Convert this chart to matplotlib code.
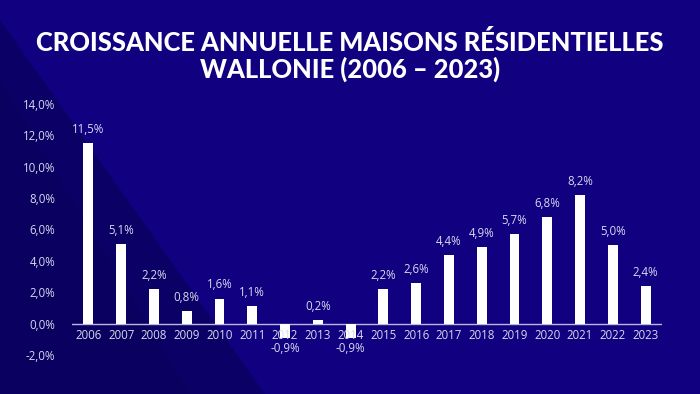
import matplotlib.pyplot as plt
from matplotlib.patches import Polygon

years = ['2006', '2007', '2008', '2009', '2010', '2011', '2012', '2013', '2014',
         '2015', '2016', '2017', '2018', '2019', '2020', '2021', '2022', '2023']
growth = [11.5, 5.1, 2.2, 0.8, 1.6, 1.1, -0.9, 0.2, -0.9,
          2.2, 2.6, 4.4, 4.9, 5.7, 6.8, 8.2, 5.0, 2.4]
yticks = [-2, 0, 2, 4, 6, 8, 10, 12, 14]

bg = '#11007f'
txt = '#d8d8f0'
font = 'Open Sans'

fig = plt.figure(figsize=(7, 3.94), dpi=100)
fig.patch.set_facecolor(bg)

# darker diagonal band on the left
fig.patches.append(Polygon([(0, 1 - 20/394), (265/700, 0), (0, 0)], closed=True,
                           transform=fig.transFigure, facecolor='#0b0066',
                           edgecolor='none', zorder=-2))
fig.patches.append(Polygon([(0, 1 - 80/394), (190/700, 0), (0, 0)], closed=True,
                           transform=fig.transFigure, facecolor='#08005a',
                           edgecolor='none', zorder=-1, alpha=0.5))

fig.text(0.5, 1 - 56/394, 'CROISSANCE ANNUELLE MAISONS RÉSIDENTIELLES\nWALLONIE (2006 – 2023)',
         ha='center', va='center', color='white', fontsize=18.4, fontweight='black',
         family='Lato', linespacing=1.08)

ax = fig.add_axes([72/700, 1 - 355/394, 590/700, 251/394], zorder=2)
ax.set_facecolor('none')
x = list(range(len(years)))
ax.bar(x, growth, width=0.3, color='white', zorder=3)
ax.axhline(0, color='#b8b8e0', linewidth=1, zorder=2)

for i, v in enumerate(growth):
    ax.text(i, -0.35, years[i], ha='center', va='top', color=txt, fontsize=8.3, family=font, zorder=4)
    lab = f'{v:.1f}%'.replace('.', ',')
    if v >= 0:
        ax.text(i, v + 0.45, lab, ha='center', va='bottom', color=txt, fontsize=8.3, family=font)
    else:
        ax.text(i, -1.2, lab, ha='center', va='top', color=txt, fontsize=8.3, family=font)

ax.set_xlim(-0.5, 17.5)
ax.set_ylim(-2, 14)
ax.set_xticks([])
ax.set_yticks(yticks)
ax.set_yticklabels([f'{t:.1f}%'.replace('.', ',') for t in yticks])
for lbl in ax.get_yticklabels():
    lbl.set_color(txt)
    lbl.set_fontsize(8.3)
    lbl.set_family(font)
ax.tick_params(length=0)
ax.tick_params(axis='y', pad=12)
for s in ax.spines.values():
    s.set_visible(False)

fig.savefig('out.png', dpi=100, facecolor=bg)
